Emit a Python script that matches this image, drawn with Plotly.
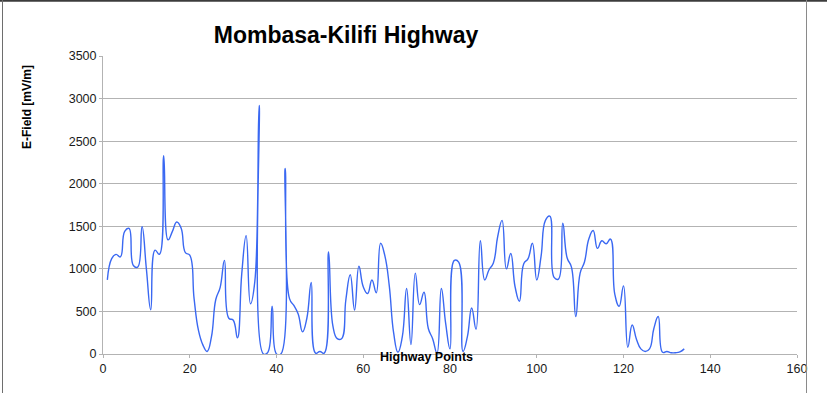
import plotly.graph_objects as go

# ---- data ----
highway_points = list(range(1, 135))
e_field = [
    870, 1120, 1170, 1140, 1440, 1475, 1040, 1020, 1495, 1000,
    520, 1220, 1170, 2330, 1340, 1440, 1550, 1480, 1190, 1160,
    650, 280, 110, 30, 200, 640, 780, 1100, 420, 400,
    190, 950, 1390, 590, 850, 2920, 0, 20, 560, 0,
    0, 2180, 650, 570, 470, 260, 420, 840, 10, 30,
    10, 1200, 330, 180, 180, 640, 930, 517, 1030, 790,
    710, 870, 720, 1300, 1150, 800, 250, 20, 200, 770,
    110, 950, 580, 725, 300, 180, 10, 770, 360, 60,
    1100, 1080, 30, 200, 540, 290, 1330, 870, 990, 1070,
    1380, 1570, 1000, 1180, 790, 620, 1060, 1120, 1300, 870,
    1150, 1570, 1620, 900, 880, 1535, 1130, 1020, 440, 950,
    1080, 1350, 1450, 1240, 1330, 1295, 1350, 700, 560, 800,
    80, 340, 170, 60, 30, 60, 300, 440, 20, 30,
    15, 15, 25, 60,
]
x_ticks = [0, 20, 40, 60, 80, 100, 120, 140, 160]
y_ticks = [0, 500, 1000, 1500, 2000, 2500, 3000, 3500]

W, H = 827, 393
L, R, T, B = 103, 30, 56, 39
PW, PH = W - L - R, H - T - B

def px(xp):
    return (xp - L) / PW

def py(yp):
    return (H - B - yp) / PH

FONT = "Liberation Sans, Arial, sans-serif"

fig = go.Figure()
fig.add_trace(go.Scatter(
    x=highway_points, y=e_field, mode="lines",
    line=dict(color="#3a68f2", width=1.4, shape="spline", smoothing=1.3),
    showlegend=False, hoverinfo="x+y",
))

fig.update_layout(
    width=W, height=H,
    margin=dict(l=L, r=R, t=T, b=B, autoexpand=False),
    paper_bgcolor="white", plot_bgcolor="white",
    font=dict(family=FONT, size=12.5, color="#1a1a1a"),
    title=dict(text="<b>Mombasa-Kilifi Highway</b>", x=346 / W, xanchor="center",
               xref="container", y=1 - 35 / H, yref="container", yanchor="middle",
               font=dict(family=FONT, size=23, color="#000000")),
    xaxis=dict(range=[0, 160], tickmode="array", tickvals=x_ticks,
               showgrid=False, zeroline=False, showline=True, linecolor="#b3b3b3",
               linewidth=1, ticks="outside", ticklen=3, tickcolor="#b3b3b3",
               tickfont=dict(family=FONT, size=12.5, color="#1a1a1a")),
    yaxis=dict(range=[0, 3500], tickmode="array", tickvals=y_ticks,
               showgrid=True, gridcolor="#b3b3b3", gridwidth=1, zeroline=False,
               showline=True, linecolor="#b3b3b3", linewidth=1,
               ticks="outside", ticklen=3, tickcolor="#b3b3b3",
               tickfont=dict(family=FONT, size=12.5, color="#1a1a1a")),
    annotations=[
        dict(text="<b>Highway Points</b>", x=px(426), y=py(357), xref="paper", yref="paper",
             xanchor="center", yanchor="middle", showarrow=False,
             font=dict(family=FONT, size=12.5, color="#000000")),
        dict(text="<b>E-Field [mV/m]</b>", x=px(27), y=py(107), xref="paper", yref="paper",
             xanchor="center", yanchor="middle", showarrow=False, textangle=-90,
             font=dict(family=FONT, size=12, color="#000000")),
    ],
    shapes=[
        dict(type="line", xref="paper", yref="paper", x0=px(0), x1=px(W), y0=py(0.8), y1=py(0.8),
             line=dict(color="#3c3c3c", width=2)),
        dict(type="line", xref="paper", yref="paper", x0=px(2.5), x1=px(2.5), y0=py(0), y1=py(H),
             line=dict(color="#6e6e6e", width=1)),
        dict(type="line", xref="paper", yref="paper", x0=px(806.5), x1=px(806.5), y0=py(0), y1=py(H),
             line=dict(color="#8a8a8a", width=1)),
    ],
)

fig.write_html(
    "out.html",
    config={"displayModeBar": False},
    post_script="document.body.style.margin='0';document.body.style.padding='0';",
)
